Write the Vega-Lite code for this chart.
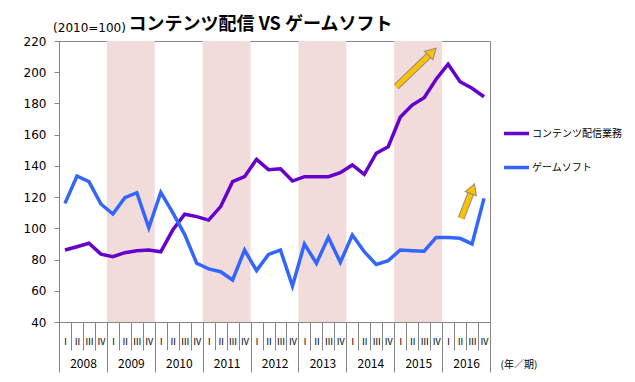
{
  "$schema": "https://vega.github.io/schema/vega-lite/v6.json",
  "width": 431,
  "height": 281,
  "autosize": "none",
  "padding": {"left": 59, "top": 41, "right": 145, "bottom": 60},
  "title": {"text": "コンテンツ配信 VS ゲームソフト", "font": "Noto Sans CJK JP", "fontSize": 18, "fontWeight": "bold", "color": "#000000", "anchor": "middle", "dx": -14, "dy": 17, "offset": 4},
  "config": {
    "font": "Noto Sans CJK JP",
    "view": {"stroke": "#868686", "strokeWidth": 1},
    "axis": {"grid": false, "labelColor": "#000000", "titleColor": "#000000", "domainColor": "#868686", "tickColor": "#868686", "labelFont": "Noto Sans CJK JP", "titleFont": "Noto Sans CJK JP"},
    "legend": {"labelFont": "Noto Sans CJK JP"}
  },
  "datasets": {
    "main": [
      {"i": 0, "year": 2008, "q": 1, "コンテンツ配信業務": 86.1, "ゲームソフト": 116.0},
      {"i": 1, "year": 2008, "q": 2, "コンテンツ配信業務": 88.2, "ゲームソフト": 133.5},
      {"i": 2, "year": 2008, "q": 3, "コンテンツ配信業務": 90.4, "ゲームソフト": 129.9},
      {"i": 3, "year": 2008, "q": 4, "コンテンツ配信業務": 83.5, "ゲームソフト": 115.6},
      {"i": 4, "year": 2009, "q": 1, "コンテンツ配信業務": 81.8, "ゲームソフト": 109.2},
      {"i": 5, "year": 2009, "q": 2, "コンテンツ配信業務": 84.4, "ゲームソフト": 119.6},
      {"i": 6, "year": 2009, "q": 3, "コンテンツ配信業務": 85.7, "ゲームソフト": 122.8},
      {"i": 7, "year": 2009, "q": 4, "コンテンツ配信業務": 86.1, "ゲームソフト": 100.4},
      {"i": 8, "year": 2010, "q": 1, "コンテンツ配信業務": 85.0, "ゲームソフト": 123.0},
      {"i": 9, "year": 2010, "q": 2, "コンテンツ配信業務": 98.9, "ゲームソフト": 110.0},
      {"i": 10, "year": 2010, "q": 3, "コンテンツ配信業務": 109.0, "ゲームソフト": 96.0},
      {"i": 11, "year": 2010, "q": 4, "コンテンツ配信業務": 107.5, "ゲームソフト": 77.6},
      {"i": 12, "year": 2011, "q": 1, "コンテンツ配信業務": 105.3, "ゲームソフト": 74.0},
      {"i": 13, "year": 2011, "q": 2, "コンテンツ配信業務": 113.9, "ゲームソフト": 72.2},
      {"i": 14, "year": 2011, "q": 3, "コンテンツ配信業務": 129.9, "ゲームソフト": 66.9},
      {"i": 15, "year": 2011, "q": 4, "コンテンツ配信業務": 133.1, "ゲームソフト": 86.1},
      {"i": 16, "year": 2012, "q": 1, "コンテンツ配信業務": 144.2, "ゲームソフト": 72.9},
      {"i": 17, "year": 2012, "q": 2, "コンテンツ配信業務": 137.6, "ゲームソフト": 83.3},
      {"i": 18, "year": 2012, "q": 3, "コンテンツ配信業務": 138.2, "ゲームソフト": 86.1},
      {"i": 19, "year": 2012, "q": 4, "コンテンツ配信業務": 130.3, "ゲームソフト": 63.0},
      {"i": 20, "year": 2013, "q": 1, "コンテンツ配信業務": 133.1, "ゲームソフト": 90.0},
      {"i": 21, "year": 2013, "q": 2, "コンテンツ配信業務": 133.1, "ゲームソフト": 77.6},
      {"i": 22, "year": 2013, "q": 3, "コンテンツ配信業務": 133.1, "ゲームソフト": 94.2},
      {"i": 23, "year": 2013, "q": 4, "コンテンツ配信業務": 135.6, "ゲームソフト": 78.2},
      {"i": 24, "year": 2014, "q": 1, "コンテンツ配信業務": 140.6, "ゲームソフト": 95.7},
      {"i": 25, "year": 2014, "q": 2, "コンテンツ配信業務": 134.6, "ゲームソフト": 85.0},
      {"i": 26, "year": 2014, "q": 3, "コンテンツ配信業務": 148.1, "ゲームソフト": 76.9},
      {"i": 27, "year": 2014, "q": 4, "コンテンツ配信業務": 152.3, "ゲームソフト": 79.3},
      {"i": 28, "year": 2015, "q": 1, "コンテンツ配信業務": 171.1, "ゲームソフト": 86.1},
      {"i": 29, "year": 2015, "q": 2, "コンテンツ配信業務": 179.0, "ゲームソフト": 85.7},
      {"i": 30, "year": 2015, "q": 3, "コンテンツ配信業務": 183.7, "ゲームソフト": 85.4},
      {"i": 31, "year": 2015, "q": 4, "コンテンツ配信業務": 195.5, "ゲームソフト": 94.2},
      {"i": 32, "year": 2016, "q": 1, "コンテンツ配信業務": 205.1, "ゲームソフト": 94.2},
      {"i": 33, "year": 2016, "q": 2, "コンテンツ配信業務": 193.9, "ゲームソフト": 93.6},
      {"i": 34, "year": 2016, "q": 3, "コンテンツ配信業務": 189.7, "ゲームソフト": 90.0},
      {"i": 35, "year": 2016, "q": 4, "コンテンツ配信業務": 184.3, "ゲームソフト": 119.2}
    ],
    "shade": [
      {"year": 2009, "start": 3.5, "end": 7.5},
      {"year": 2011, "start": 11.5, "end": 15.5},
      {"year": 2013, "start": 19.5, "end": 23.5},
      {"year": 2015, "start": 27.5, "end": 31.5}
    ],
    "arrows": [
      {"x1": 27.67, "y1": 190.7, "x2": 30.38, "y2": 210.7, "hx": 30.69, "hy": 213.0, "angle": 46},
      {"x1": 33.09, "y1": 106.4, "x2": 33.89, "y2": 122.2, "hx": 34.05, "hy": 125.3, "angle": 21}
    ]
  },
  "resolve": {"axis": {"x": "independent", "y": "independent"}},
  "layer": [
    {
      "data": {"name": "shade"},
      "mark": {"type": "rect", "color": "#F2DCDB"},
      "encoding": {
        "x": {"field": "start", "type": "quantitative", "scale": {"domain": [-0.5, 35.5], "nice": false, "zero": false},
          "axis": {"orient": "bottom", "title": null,
            "values": [-0.5, 0.5, 1.5, 2.5, 3.5, 4.5, 5.5, 6.5, 7.5, 8.5, 9.5, 10.5, 11.5, 12.5, 13.5, 14.5, 15.5, 16.5, 17.5, 18.5, 19.5, 20.5, 21.5, 22.5, 23.5, 24.5, 25.5, 26.5, 27.5, 28.5, 29.5, 30.5, 31.5, 32.5, 33.5, 34.5, 35.5],
            "labelExpr": "datum.value > 35 ? '' : ['Ⅰ','Ⅱ','Ⅲ','Ⅳ'][(datum.value + 0.5) % 4]",
            "labelOffset": 6, "tickSize": 28, "labelPadding": -13, "labelFontSize": 9, "labelAngle": 0,
            "labelOverlap": false, "labelFlush": false, "labelBound": false}},
        "x2": {"field": "end"}
      }
    },
    {
      "data": {"name": "main"},
      "transform": [{"fold": ["コンテンツ配信業務", "ゲームソフト"], "as": ["series", "value"]}],
      "mark": {"type": "line", "strokeWidth": 3.5},
      "encoding": {
        "x": {"field": "i", "type": "quantitative", "scale": {"domain": [-0.5, 35.5], "nice": false, "zero": false},
          "axis": {"orient": "bottom",
            "values": [-0.5, 3.5, 7.5, 11.5, 15.5, 19.5, 23.5, 27.5, 31.5, 35.5],
            "labelExpr": "datum.value > 35 ? '' : '' + (2008 + (datum.value + 0.5) / 4)",
            "labelOffset": 24, "tickSize": 50, "labelPadding": -14, "labelFontSize": 12, "labelAngle": 0,
            "labelOverlap": false, "labelFlush": false, "labelBound": false,
            "title": "(年／期)", "titleX": 441, "titleY": 42, "titleAlign": "left", "titleBaseline": "middle", "titleFontSize": 10, "titleFontWeight": "normal", "titleAngle": 0}},
        "y": {"field": "value", "type": "quantitative", "scale": {"domain": [40, 220], "nice": false, "zero": false},
          "axis": {"orient": "left", "values": [40, 60, 80, 100, 120, 140, 160, 180, 200, 220], "title": "(2010=100)", "titleAngle": 0, "titleX": 30, "titleY": -14, "titleAlign": "center", "titleBaseline": "middle", "titleFontSize": 12, "titleFont": "DejaVu Sans", "titleFontWeight": "normal", "tickSize": 5, "labelPadding": 8, "labelFontSize": 12, "labelFont": "DejaVu Sans", "labelOverlap": false, "labelFlush": false}},
        "color": {"field": "series", "type": "nominal",
          "scale": {"domain": ["コンテンツ配信業務", "ゲームソフト"], "range": ["#6600CC", "#3366FF"]},
          "legend": {"orient": "none", "legendX": 443, "legendY": 78, "title": null, "symbolType": "stroke", "symbolStrokeWidth": 3.5, "symbolSize": 625, "labelFontSize": 10, "rowPadding": 12, "labelOffset": 1, "labelColor": "#000000"}}
      }
    },
    {
      "data": {"name": "arrows"},
      "mark": {"type": "rule", "color": "#8C8C8C", "strokeWidth": 7, "strokeCap": "butt"},
      "encoding": {
        "x": {"field": "x1", "type": "quantitative", "axis": null},
        "y": {"field": "y1", "type": "quantitative", "axis": null},
        "x2": {"field": "x2"},
        "y2": {"field": "y2"}
      }
    },
    {
      "data": {"name": "arrows"},
      "mark": {"type": "rule", "color": "#FFC000", "strokeWidth": 5, "strokeCap": "butt"},
      "encoding": {
        "x": {"field": "x1", "type": "quantitative", "axis": null},
        "y": {"field": "y1", "type": "quantitative", "axis": null},
        "x2": {"field": "x2"},
        "y2": {"field": "y2"}
      }
    },
    {
      "data": {"name": "arrows"},
      "mark": {"type": "point", "shape": "triangle-up", "filled": true, "fill": "#FFC000", "stroke": "#8C8C8C", "strokeWidth": 1, "opacity": 1, "size": 144},
      "encoding": {
        "x": {"field": "hx", "type": "quantitative", "axis": null},
        "y": {"field": "hy", "type": "quantitative", "axis": null},
        "angle": {"field": "angle", "type": "quantitative", "scale": null}
      }
    }
  ]
}
